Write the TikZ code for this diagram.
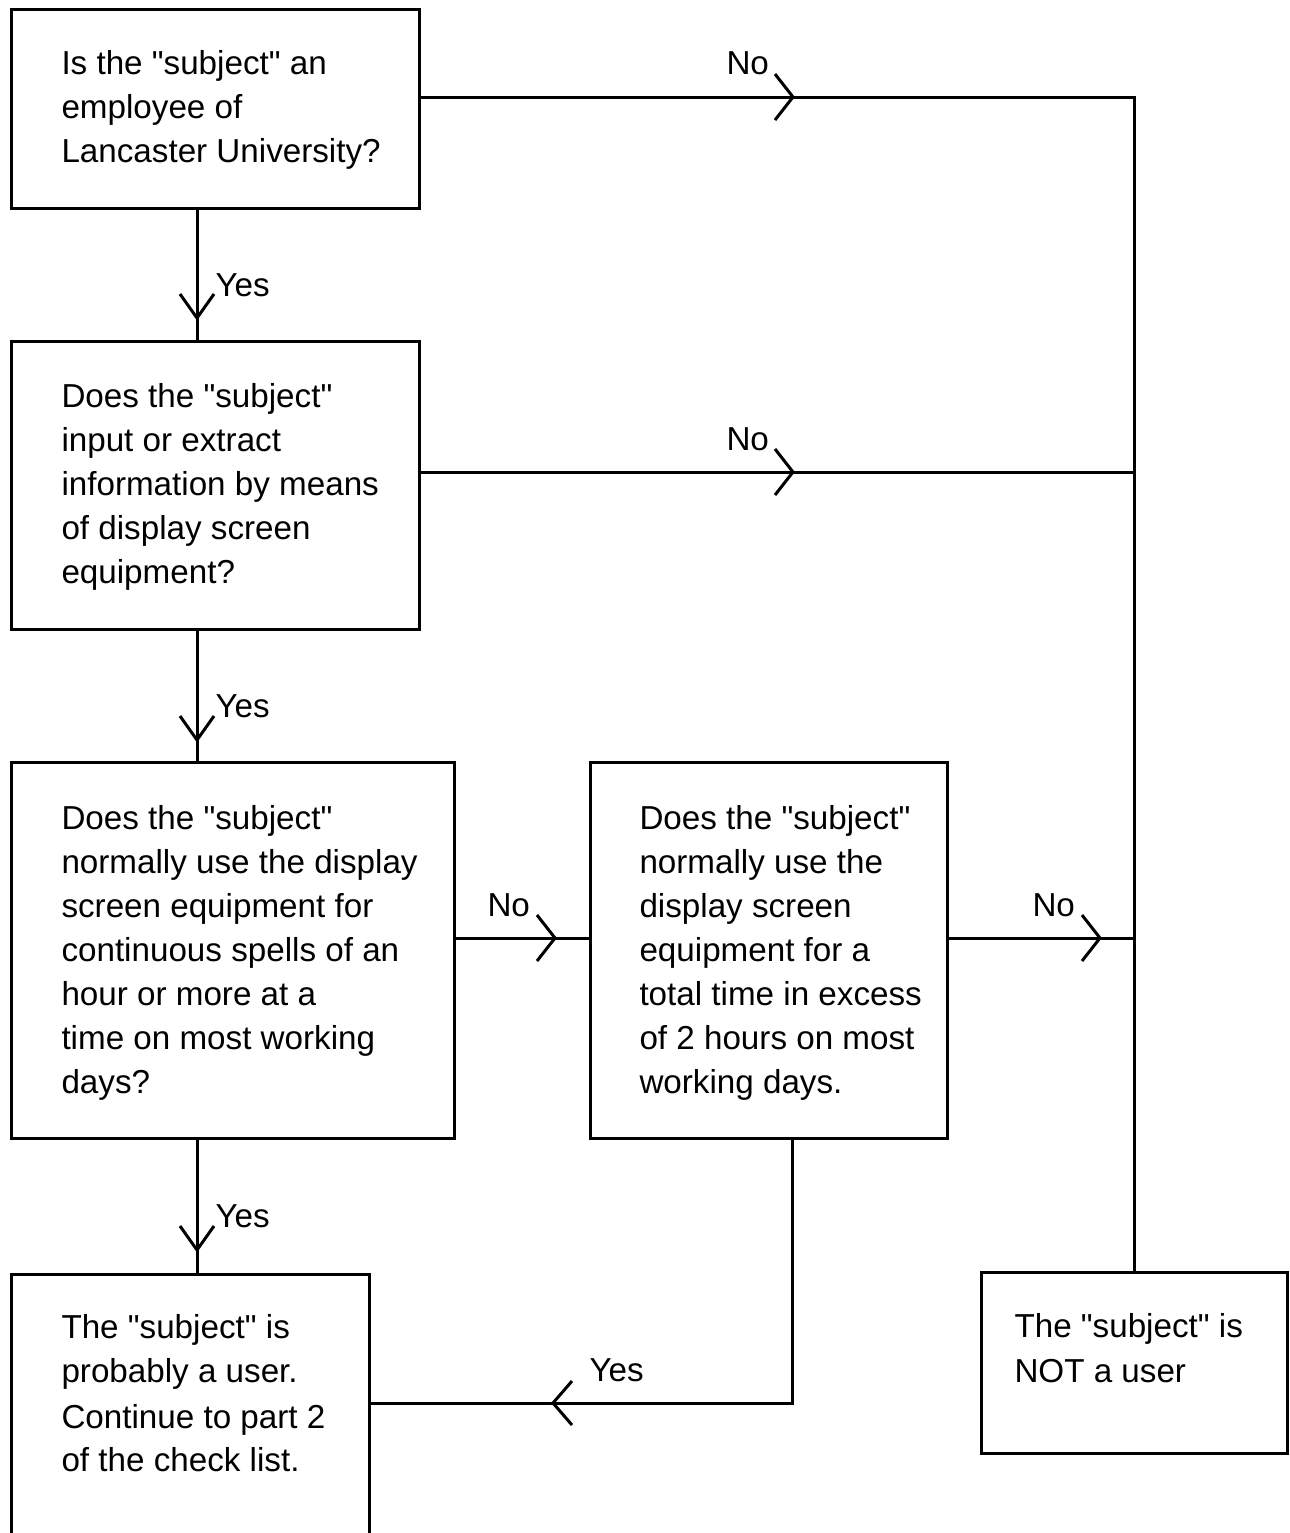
\documentclass[tikz,border=0pt]{standalone}
\usepackage{fontspec}
\setmainfont{Liberation Sans}[Ligatures=TeXOff]
\newcommand\dfont{\fontsize{16.6pt}{22pt}\selectfont}
\newcommand\chevR[1]{\draw (#1) ++(-18,-23) -- (#1) -- ++(-18,23);}
\newcommand\chevL[1]{\draw (#1) ++(19,-22) -- (#1) -- ++(19,22);}
\newcommand\chevD[1]{\draw (#1) ++(-17,-24) -- (#1) -- ++(17,-24);}
\begin{document}
\begin{tikzpicture}[x=0.5pt,y=-0.5pt,line width=1.5pt,
  box/.style={draw, rectangle, inner sep=0pt, anchor=north west, line width=1.5pt},
  txt/.style={anchor=base west, inner sep=0pt, font=\dfont},
  lbl/.style={anchor=base west, inner sep=0pt, font=\dfont}]
\clip (0,0) rectangle (1290,1533);
\fill[white] (0,0) rectangle (1290,1533);

% boxes
\node[box, minimum width=204pt, minimum height=99.5pt] (q1) at (10,8) {};
\node[box, minimum width=204pt, minimum height=144pt] (q2) at (10,340) {};
\node[box, minimum width=221.5pt, minimum height=188pt] (q3) at (10,761) {};
\node[box, minimum width=178.5pt, minimum height=188pt] (q4) at (589,761) {};
\node[box, minimum width=179pt, minimum height=140pt] (q5) at (10,1273) {};
\node[box, minimum width=153pt, minimum height=90.5pt] (q6) at (980,1271) {};

% texts
\node[txt] (t1) at (60,74) {\parbox[t]{200pt}{Is the "subject" an\\employee of\\Lancaster University?}};
\node[txt] (t2) at (60,407) {\parbox[t]{200pt}{Does the "subject"\\input or extract\\information by means\\of display screen\\equipment?}};
\node[txt] (t3) at (60,829) {\parbox[t]{220pt}{Does the "subject"\\normally use the display\\screen equipment for\\continuous spells of an\\hour or more at a\\time on most working\\days?}};
\node[txt] (t4) at (638,829) {\parbox[t]{200pt}{Does the "subject"\\normally use the\\display screen\\equipment for a\\total time in excess\\of 2 hours on most\\working days.}};
\node[txt] (t5) at (60,1338) {\parbox[t]{200pt}{The "subject" is\\probably a user.\\[1pt]Continue to part 2\\[-0.5pt]of the check list.}};
\node[txt] (t6) at (1013,1337) {\parbox[t]{200pt}{\fontsize{16.6pt}{22.5pt}\selectfont The "subject" is\\NOT a user}};

% helper coordinates
\coordinate (vx) at (197,0);
\coordinate (vx2) at (792,0);
\coordinate (r1) at (0,97);
\coordinate (r2) at (0,472);
\coordinate (r3) at (0,938);
\coordinate (r4) at (0,1403);
\coordinate (c1) at (q6.north |- r1);

% connectors
\draw (q1.east |- r1) -- (c1) -- (q6.north);
\draw (q2.east |- r2) -- (q6.north |- r2);
\draw (q3.east |- r3) -- (q4.west |- r3);
\draw (q4.east |- r3) -- (q6.north |- r3);
\draw (q1.south -| vx) -- (q2.north -| vx);
\draw (q2.south -| vx) -- (q3.north -| vx);
\draw (q3.south -| vx) -- (q5.north -| vx);
\draw (q4.south -| vx2) -- (vx2 |- r4) -- (q5.east |- r4);

% arrow chevrons
\coordinate (a1) at (793,97);   \chevR{a1}
\coordinate (a2) at (793,472);  \chevR{a2}
\coordinate (a3) at (555,938);  \chevR{a3}
\coordinate (a4) at (1100,938); \chevR{a4}
\coordinate (d1) at (197,318);  \chevD{d1}
\coordinate (d2) at (197,740);  \chevD{d2}
\coordinate (d3) at (197,1250); \chevD{d3}
\coordinate (l1) at (553,1403); \chevL{l1}

% labels
\node[lbl] (n1) at (725,74) {No};
\node[lbl] (n2) at (725,450) {No};
\node[lbl] (n3) at (486,916) {No};
\node[lbl] (n4) at (1031,916) {No};
\node[lbl] (y1) at (214,296) {Yes};
\node[lbl] (y2) at (214,717) {Yes};
\node[lbl] (y3) at (214,1227) {Yes};
\node[lbl] (y4) at (588,1381) {Yes};
\end{tikzpicture}
\end{document}
